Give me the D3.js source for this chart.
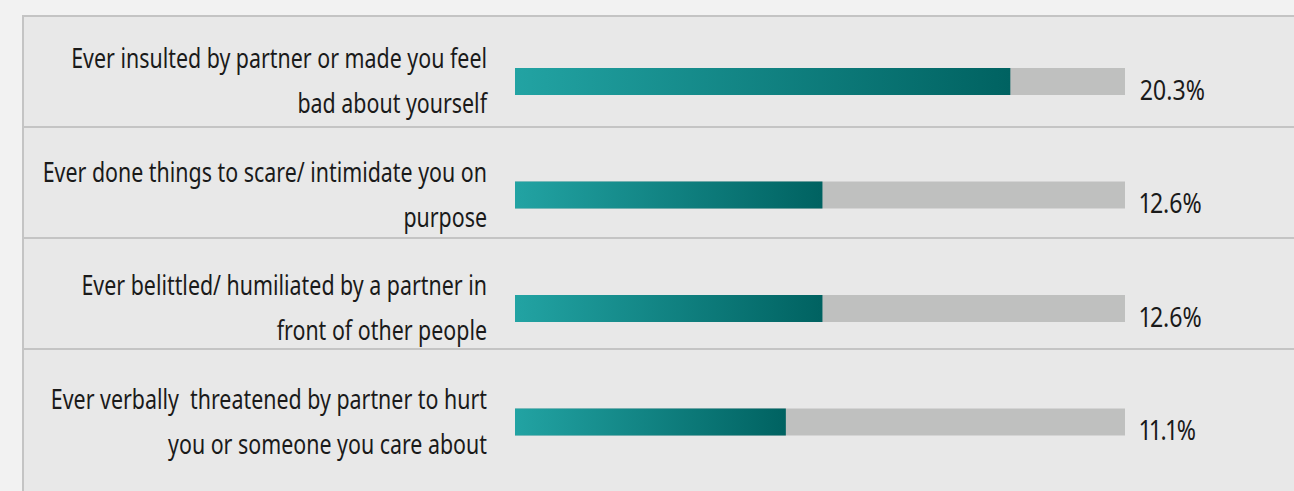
<!DOCTYPE html>
<html>
<head>
<meta charset="utf-8">
<script src="https://cdn.jsdelivr.net/npm/d3@7"></script>
<style>
  html, body { margin: 0; padding: 0; background: #f2f2f2; overflow: hidden; }
  svg { display: block; }
  text { white-space: pre; font-variant-numeric: proportional-nums; font-feature-settings: "pnum" 1; }
</style>
</head>
<body>
<svg id="chart" width="1294" height="491"></svg>
<script>
// ---- data ----
const categories = [
  ["Ever insulted by partner or made you feel", "bad about yourself"],
  ["Ever done things to scare/ intimidate you on", "purpose"],
  ["Ever belittled/ humiliated by a partner in", "front of other people"],
  ["Ever verbally  threatened by partner to hurt", "you or someone you care about"]
];
const values = [20.3, 12.6, 12.6, 11.1];
const valueLabels = ["20.3%", "12.6%", "12.6%", "11.1%"];
const axisMax = 25;

// ---- layout ----
const W = 1294, H = 491;
const panel = { x: 23, y: 16 };
const cellH = 111;
const contentTop = 68, contentStep = 113.5;
const barH = 27;
const barX0 = 515, barX1 = 1125;
const labelRight = 487;
const valueX = 1140;
const FONT = "'Noto Sans', 'Open Sans', sans-serif";
const FS = 28;
const lineGap = 45.5;
const targetFirstLine = 416;  // width of first label line in reference
const targetValue = 65;       // width of "20.3%" in reference

const svg = d3.select("#chart");
const idx = d3.range(categories.length);

// cell separators
const cellY = d3.scaleBand().domain(idx)
  .range([panel.y, panel.y + cellH * categories.length]);
// row content (bars + labels)
const rowY = d3.scaleBand().domain(idx)
  .range([contentTop, contentTop + contentStep * categories.length]);
const x = d3.scaleLinear().domain([0, axisMax]).range([barX0, barX1]);

// gradient
const defs = svg.append("defs");
const grad = defs.append("linearGradient")
  .attr("id", "barGrad")
  .attr("x1", "0%").attr("x2", "100%").attr("y1", "0%").attr("y2", "0%");
grad.append("stop").attr("offset", "0%").attr("stop-color", "#22a3a3");
grad.append("stop").attr("offset", "100%").attr("stop-color", "#006261");

// panel
svg.append("rect")
  .attr("x", panel.x).attr("y", panel.y)
  .attr("width", W + 20 - panel.x).attr("height", H + 20 - panel.y)
  .attr("fill", "#e8e8e8")
  .attr("stroke", "#c4c4c4").attr("stroke-width", 2);

// separators
svg.selectAll("line.sep")
  .data(idx.slice(1))
  .join("line")
  .attr("class", "sep")
  .attr("x1", panel.x).attr("x2", W + 10)
  .attr("y1", d => cellY(d)).attr("y2", d => cellY(d))
  .attr("stroke", "#c4c4c4").attr("stroke-width", 2);

const rows = svg.selectAll("g.row")
  .data(categories.map((c, i) => ({ lines: c, v: values[i], lab: valueLabels[i], i })))
  .join("g")
  .attr("class", "row")
  .attr("transform", d => `translate(0,${rowY(d.i)})`);

// track
rows.append("rect")
  .attr("x", x(0)).attr("y", 0)
  .attr("width", x(axisMax) - x(0)).attr("height", barH)
  .attr("fill", "#bfc0bf");

// value bar
rows.append("rect")
  .attr("x", x(0)).attr("y", 0)
  .attr("width", d => x(d.v) - x(0)).attr("height", barH)
  .attr("fill", "url(#barGrad)");

// category labels
const labelG = rows.append("g").attr("class", "lab");
labelG.selectAll("text")
  .data(d => d.lines.map((t, k) => ({ t, k })))
  .join("text")
  .attr("y", d => d.k * lineGap)
  .attr("font-family", FONT)
  .attr("font-size", FS)
  .attr("fill", "#1a1a1a")
  .attr("text-anchor", "end")
  .text(d => d.t);

// value labels
const valG = rows.append("g").attr("class", "val");
valG.append("text")
  .attr("y", barH + 5)
  .attr("font-family", FONT)
  .attr("font-size", FS)
  .attr("fill", "#1a1a1a")
  .attr("text-anchor", "start")
  .text(d => d.lab);

// horizontal compression to mimic condensed face
const w1 = labelG.select("text").node().getComputedTextLength();
const sx = w1 > 0 ? targetFirstLine / w1 : 1;
const w2 = valG.select("text").node().getComputedTextLength();
const sv = w2 > 0 ? targetValue / w2 : 1;
labelG.attr("transform", `translate(${labelRight},0) scale(${sx},1)`);
valG.attr("transform", `translate(${valueX},0) scale(${sv},1)`);
</script>
</body>
</html>
